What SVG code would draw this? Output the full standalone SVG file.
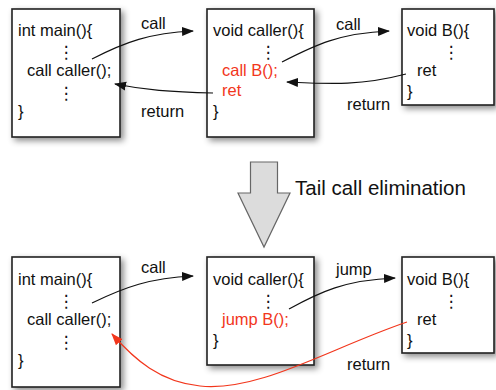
<svg xmlns="http://www.w3.org/2000/svg" width="496" height="390" viewBox="0 0 496 390">
<style>
text{font-family:"Liberation Sans",Arial,sans-serif;font-size:16.5px;fill:#111}
.r{fill:#f2361c}
.d{font-family:"DejaVu Sans",sans-serif;font-size:17px}
.box{fill:#fff;stroke:#222;stroke-width:1.6}
.c{fill:none;stroke:#111;stroke-width:1.2}
.cr{fill:none;stroke:#f2361c;stroke-width:1.2}
</style>
<defs>
<filter id="sh" x="-20%" y="-20%" width="150%" height="150%">
<feDropShadow dx="3" dy="3" stdDeviation="3" flood-color="#000" flood-opacity="0.45"/>
</filter>
<marker id="ah" markerWidth="12" markerHeight="10" refX="11" refY="5" orient="auto" markerUnits="userSpaceOnUse">
<path d="M0,0.5 L12,5 L0,9.5 Z" fill="#111"/>
</marker>
<marker id="ahr" markerWidth="12" markerHeight="10" refX="11" refY="5" orient="auto" markerUnits="userSpaceOnUse">
<path d="M0,0.5 L12,5 L0,9.5 Z" fill="#f2361c"/>
</marker>
</defs>
<rect width="496" height="390" fill="#fff"/>

<g id="main1">
<rect class="box" x="12" y="9" width="108" height="128" filter="url(#sh)"/>
<text x="18" y="36">int main(){</text>
<text class="d" x="66" y="58" text-anchor="middle">⋮</text>
<text x="27" y="76">call caller();</text>
<text class="d" x="66" y="99" text-anchor="middle">⋮</text>
<text x="18" y="117">}</text>
</g>
<g id="caller1">
<rect class="box" x="207" y="9" width="107" height="128" filter="url(#sh)"/>
<text x="213" y="36">void caller(){</text>
<text class="d" x="268" y="58" text-anchor="middle">⋮</text>
<text class="r" x="222" y="76">call B();</text>
<text class="r" x="222" y="96">ret</text>
<text x="213" y="117">}</text>
</g>
<g id="B1">
<rect class="box" x="402" y="9" width="92" height="96" filter="url(#sh)"/>
<text x="407" y="36">void B(){</text>
<text class="d" x="451" y="58" text-anchor="middle">⋮</text>
<text x="417" y="76">ret</text>
<text x="407" y="97">}</text>
</g>

<g id="transform">
<path d="M250.5,162 L277.5,162 L277.5,193 L290,193 L264,247 L238,193 L250.5,193 Z" fill="#dcdcdc" stroke="#666" stroke-width="1.2"/>
<text x="295" y="195" style="font-size:20.5px">Tail call elimination</text>
</g>

<g id="main2">
<rect class="box" x="12" y="257" width="108" height="130" filter="url(#sh)"/>
<text x="18" y="285">int main(){</text>
<text class="d" x="66" y="307" text-anchor="middle">⋮</text>
<text x="27" y="325">call caller();</text>
<text class="d" x="66" y="348" text-anchor="middle">⋮</text>
<text x="18" y="366">}</text>
</g>
<g id="caller2">
<rect class="box" x="207" y="257" width="107" height="108" filter="url(#sh)"/>
<text x="213" y="285">void caller(){</text>
<text class="d" x="268" y="307" text-anchor="middle">⋮</text>
<text class="r" x="222" y="325">jump B();</text>
<text x="213" y="346">}</text>
</g>
<g id="B2">
<rect class="box" x="402" y="257" width="92" height="96" filter="url(#sh)"/>
<text x="407" y="285">void B(){</text>
<text class="d" x="451" y="307" text-anchor="middle">⋮</text>
<text x="417" y="325">ret</text>
<text x="407" y="346">}</text>
</g>

<g id="connectors">
<path class="c" d="M92,59 C125,42 150,33 193,31" marker-end="url(#ah)"/>
<text x="141" y="29">call</text>
<path class="c" d="M213,93 C170,92 145,90 115,84" marker-end="url(#ah)"/>
<text x="141" y="117">return</text>
<path class="c" d="M282,62 C315,45 340,33 389,31" marker-end="url(#ah)"/>
<text x="336" y="30">call</text>
<path class="c" d="M406,74 C360,86 330,84 287,82" marker-end="url(#ah)"/>
<text x="347" y="110">return</text>

<path class="c" d="M92,303 C125,287 150,278 193,276" marker-end="url(#ah)"/>
<text x="141" y="273">call</text>
<path class="c" d="M289,309 C320,292 345,280 395,278" marker-end="url(#ah)"/>
<text x="336" y="275">jump</text>
<path class="cr" d="M407,322 C330,348 260,392 200,386 C160,382 135,360 112,334" marker-end="url(#ahr)"/>
<text x="347" y="370">return</text>
</g>
</svg>
